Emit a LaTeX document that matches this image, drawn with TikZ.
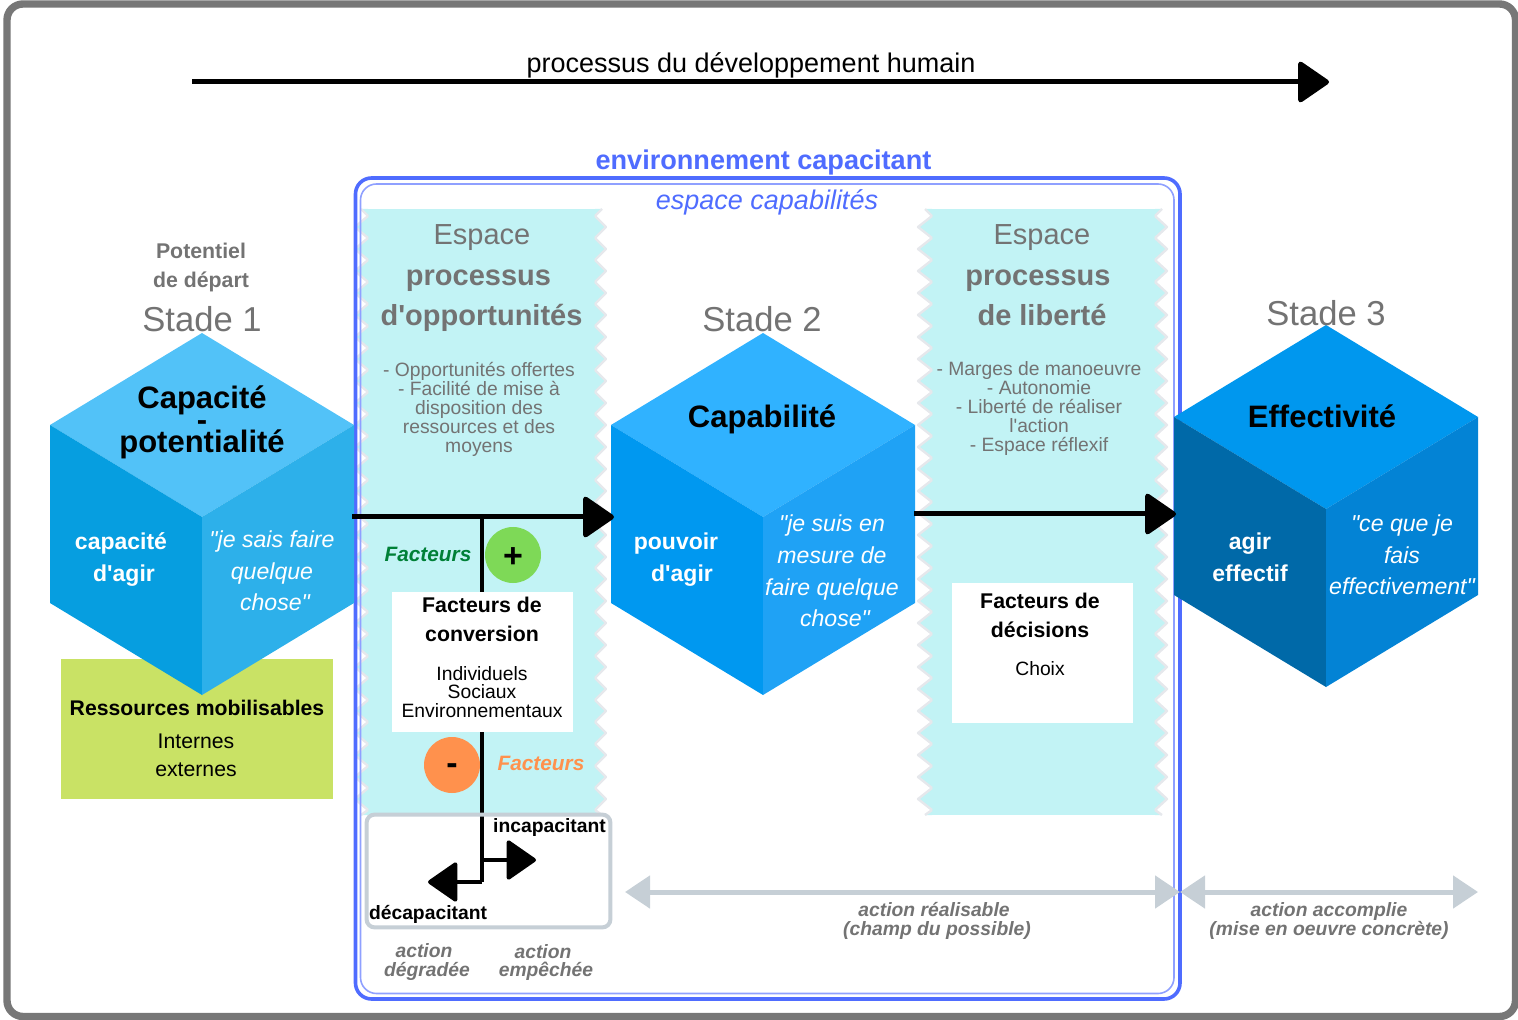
\documentclass[tikz,border=0pt]{standalone}
\usepackage{fontspec}
\setmainfont{Liberation Sans}[Ligatures=TeXOff]
\usetikzlibrary{arrows.meta}
\definecolor{framegrey}{HTML}{777777}
\definecolor{txtgrey}{HTML}{737373}
\definecolor{capblue}{HTML}{4F6CFF}
\definecolor{capthin}{HTML}{8FA0FF}
\definecolor{band}{HTML}{C2F3F5}
\definecolor{zig}{HTML}{E6E8EC}
\definecolor{resgreen}{HTML}{C9E265}
\definecolor{steel}{HTML}{C6CFD6}
\definecolor{plusgreen}{HTML}{7ED957}
\definecolor{minusorange}{HTML}{FF914D}
\definecolor{facgreen}{HTML}{008037}
\definecolor{aT}{HTML}{52C2F8}\definecolor{aL}{HTML}{069EE0}\definecolor{aR}{HTML}{2DB0EA}
\definecolor{bT}{HTML}{30B2FF}\definecolor{bL}{HTML}{0098F0}\definecolor{bR}{HTML}{1FA2F5}
\definecolor{cT}{HTML}{0097EE}\definecolor{cL}{HTML}{0069A8}\definecolor{cR}{HTML}{0383D5}
\newcommand\tightskip{\lineskiplimit=-20pt\relax}
\newcommand\cube[5]{%
  \begin{scope}[shift={(#1,#2)}]
    \fill[#3] (0,0)--(152,92)--(0,184)--(-152,92)--cycle;
    \fill[#4] (-152,92)--(0,184)--(0,362)--(-152,270)--cycle;
    \fill[#5] (152,92)--(0,184)--(0,362)--(152,270)--cycle;
  \end{scope}}
\newcommand\zigband[4]{%
  \fill[band] (#2,209) rectangle (#3,815);
  \fill[band] (#2-7,209)--(#2,216)--(#2,209)--cycle (#3,209)--(#3+7,209)--(#3,216)--cycle;
  \fill[band] (#2,810)--(#2-7,815)--(#2,815)--cycle (#3,810)--(#3+7,815)--(#3,815)--cycle;
  \draw[zigline] (#2-7,209)--(#2,216) (#3+7,209)--(#3,216) (#2,810)--(#2-7,815) (#3,810)--(#3+7,815);
  \foreach \k in {0,...,26}{%
    \pgfmathsetmacro\ya{216+22*\k}\pgfmathsetmacro\yb{227+22*\k}\pgfmathsetmacro\yc{238+22*\k}
    \fill[band] (#2,\ya)--(#1,\yb)--(#2,\yc)--cycle;
    \fill[band] (#3,\ya)--(#4,\yb)--(#3,\yc)--cycle;
    \draw[zigline] (#2,\ya)--(#1,\yb)--(#2,\yc);
    \draw[zigline] (#3,\ya)--(#4,\yb)--(#3,\yc);
  }}
\tikzset{
  zigline/.style={zig,line width=1.2pt,line join=round},
  lbl/.style={inner sep=0pt,align=center},
  basel/.style={inner sep=0pt,anchor=base},
  bigarrow/.style={line width=2.5pt,-{Triangle[length=16.5pt,width=22pt,round]}},
  thinblack/.style={line width=2.2pt},
  smallarrow/.style={line width=2pt,-{Triangle[length=15.5pt,width=21pt,round]}},
  greyarrow/.style={steel,line width=2.5pt,{Triangle[length=12.5pt,width=16pt]}-{Triangle[length=12.5pt,width=16pt]}},
  bandhead/.style={basel,text=txtgrey,font=\fontsize{14.5}{17}\selectfont},
  bandbold/.style={lbl,text=txtgrey,font=\fontsize{14.5}{20}\selectfont\bfseries},
  bandlist/.style={lbl,text=txtgrey,font=\fontsize{9.65}{9.5}\selectfont},
  stade/.style={basel,text=txtgrey,font=\fontsize{17.3}{20}\selectfont},
  cubetitle/.style={lbl,font=\fontsize{15.5}{11}\selectfont\bfseries\tightskip},
  facebold/.style={lbl,text=white,font=\fontsize{11.5}{16}\selectfont\bfseries},
  faceital/.style={lbl,text=white,font=\fontsize{11.55}{15.8}\selectfont\itshape},
  boxbold/.style={lbl,font=\fontsize{10.65}{14.5}\selectfont\bfseries},
  boxtext/.style={lbl,font=\fontsize{9.65}{9.3}\selectfont},
  greyital/.style={lbl,text=txtgrey,font=\fontsize{9.65}{9.3}\selectfont\bfseries\itshape},
  sign/.style={circle,inner sep=0pt,minimum size=28pt,font=\fontsize{17}{17}\selectfont\bfseries},
}
\begin{document}
\begin{tikzpicture}[x=.5pt,y=-.5pt]
\useasboundingbox (0,0) rectangle (1518,1020);
% frame
\draw[framegrey,line width=3.7pt,rounded corners=8pt] (7,4) rectangle (1515.5,1016.5);
% resources box (behind cube)
\node[fill=resgreen,minimum width=136pt,minimum height=70pt,inner sep=0pt] (res) at (197,729) {};
% bands
\zigband{355}{368}{595}{606}
\zigband{918}{932}{1155}{1167}
% capability frames
\draw[capblue,line width=1.8pt,rounded corners=8pt] (355.5,178) rectangle (1180,999);
\draw[capthin,line width=.8pt,rounded corners=8pt] (360.5,184) rectangle (1174,993.5);
% cubes
\cube{202}{333}{aT}{aL}{aR}
\cube{763}{333}{bT}{bL}{bR}
\cube{1326}{325}{cT}{cL}{cR}
% white boxes
\node[fill=white,minimum width=90.5pt,minimum height=70pt,inner sep=0pt] (conv) at (482.5,662) {};
\node[fill=white,minimum width=90.5pt,minimum height=70pt,inner sep=0pt] (deci) at (1042.5,653) {};
% degraded / prevented box
\node[fill=white,draw=none,rounded corners=4pt,minimum width=121.5pt,minimum height=56pt,inner sep=0pt] (act) at (488.5,871) {};
% top arrow
\coordinate (pstart) at (192,82); \coordinate (pend) at (1329,82);
\draw[bigarrow] (pstart) -- (pend);
% main arrows
\coordinate (a1) at (352,517); \coordinate (a2) at (614,517);
\coordinate (b1) at (914,514); \coordinate (b2) at (1176,514);
\coordinate (j) at (482,517);
\coordinate (k1) at (482,860); \coordinate (k2) at (482,882);
\coordinate (inc) at (536,860); \coordinate (dec) at (428,882);
\draw[bigarrow] (a1) -- (a2);
\draw[bigarrow] (b1) -- (b2);
\draw[thinblack] (j) -- (conv.north -| j);
\draw[thinblack] (conv.south -| j) -- (k2);
\draw[smallarrow] (k1) -- (inc);
\draw[smallarrow] (k2) -- (dec);
\draw[steel,line width=2pt,rounded corners=4pt] (act.south west) rectangle (act.north east);
% range arrows
\coordinate (r1) at (625,892); \coordinate (r2) at (1180,892); \coordinate (r3) at (1478,892);
\draw[greyarrow] (r1) -- (r2);
\draw[greyarrow] (r2) -- (r3);
% circles
\node[sign,fill=plusgreen] (plus) at (513,555) {\raisebox{-6pt}[0pt][0pt]{+}};
\node[sign,fill=minusorange] (minus) at (452,765) {\raisebox{-4.5pt}[0pt][0pt]{-}};
% titles
\node[basel,font=\fontsize{13.5}{16}\selectfont] (t1) at (751,73) {processus du développement humain};
\node[basel,text=capblue,font=\fontsize{13.55}{16}\selectfont\bfseries] (t2) at (763.5,170) {environnement capacitant};
\node[basel,text=capblue,font=\fontsize{13.5}{16}\selectfont\itshape] (t3) at (767,210) {espace capabilités};
\node[lbl,text=txtgrey,font=\fontsize{10.65}{14.5}\selectfont\bfseries] (pot) at (201,267) {Potentiel\\de départ};
\node[stade] (s1) at (202,332) {Stade 1};
\node[stade] (s2) at (762,332) {Stade 2};
\node[stade] (s3) at (1326,326) {Stade 3};
% band texts
\node[bandhead] (e1) at (482,245) {Espace};
\node[bandbold] (p1) at (481.5,301) {processus\hspace*{3pt}\\d'opportunités};
\node[bandlist] (l1) at (479,409) {- Opportunités offertes\\- Facilité de mise à\\disposition des\\ressources et des\\moyens};
\node[bandhead] (e2) at (1042,245) {Espace};
\node[bandbold] (p2) at (1042,298) {processus\hspace*{4pt}\\de liberté};
\node[bandlist] (l2) at (1039,409) {- Marges de manoeuvre\\- Autonomie\\- Liberté de réaliser\\l'action\\- Espace réflexif};
% cube texts
\node[cubetitle] (c1) at (202,422.5) {Capacité\\-\\potentialité};
\node[facebold] (f1) at (121,559.5) {capacité\\\hspace*{3pt}d'agir};
\node[faceital] (i1) at (272,571) {"je sais faire\\quelque\\\hspace*{3pt}chose"};
\node[cubetitle] (c2) at (762,419) {Capabilité};
\node[facebold] (f2) at (676,559.5) {pouvoir\\\hspace*{6pt}d'agir};
\node[faceital] (i2) at (832,571) {"je suis en\\mesure de\\faire quelque\\\hspace*{3pt}chose"};
\node[cubetitle] (c3) at (1322,416) {Effectivité};
\node[facebold] (f3) at (1250,557) {agir\\effectif};
\node[faceital] (i3) at (1402,555) {"ce que je\\fais\\effectivement"};
% resources text
\node[basel,font=\fontsize{10.6}{14}\selectfont\bfseries] (r0) at (197,715) {Ressources mobilisables};
\node[lbl,font=\fontsize{10.6}{14}\selectfont] (rt) at (196,755.5) {Internes\\externes};
% factors
\node[basel,text=facgreen,font=\fontsize{10.4}{14}\selectfont\bfseries\itshape] (fg) at (428,561.5) {Facteurs};
\node[basel,text=minusorange,font=\fontsize{10.4}{14}\selectfont\bfseries\itshape] (fo) at (541,770.5) {Facteurs};
\node[boxbold] (bc) at (482,619.5) {Facteurs de\\conversion};
\node[boxtext] (bi) at (482,692) {Individuels\\Sociaux\\Environnementaux};
\node[boxbold] (bd) at (1040,615) {Facteurs de\\décisions};
\node[basel,font=\fontsize{9.65}{12}\selectfont] (ch) at (1040,675) {Choix};
\node[basel,font=\fontsize{9.65}{12}\selectfont\bfseries] (in) at (549.5,832) {incapacitant};
\node[basel,font=\fontsize{9.65}{12}\selectfont\bfseries] (de) at (428,919) {décapacitant};
\node[greyital] (g1) at (427,962) {action\hspace*{3pt}\\dégradée};
\node[greyital] (g2) at (546,962.5) {action\hspace*{3pt}\\empêchée};
\node[greyital] (g3) at (937,921) {action réalisable\hspace*{3pt}\\(champ du possible)};
\node[greyital] (g4) at (1329,921) {action accomplie\\(mise en oeuvre concrète)};
\end{tikzpicture}
\end{document}
